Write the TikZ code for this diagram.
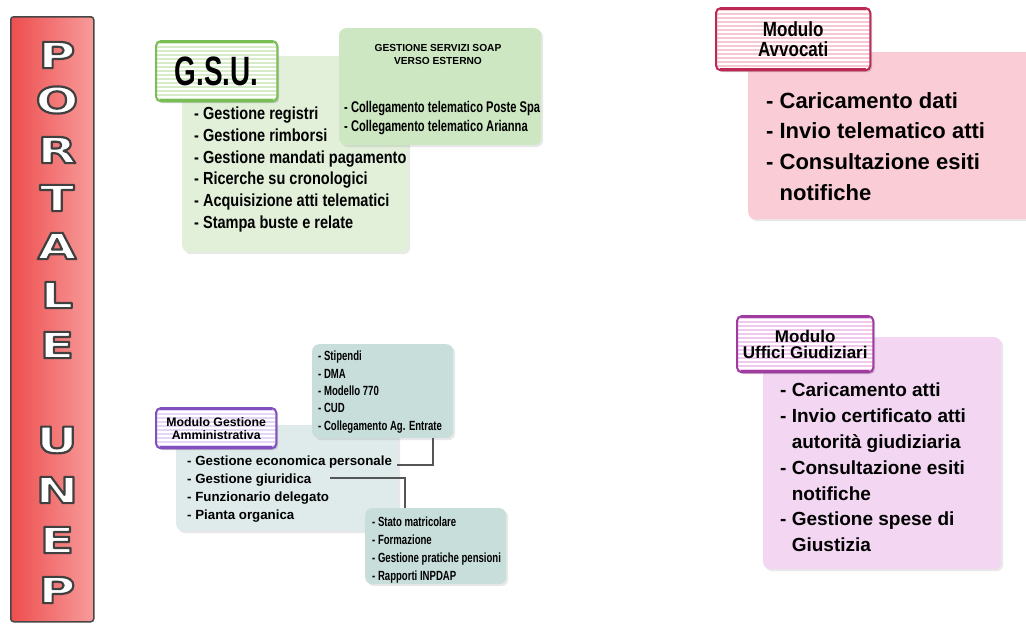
\documentclass[tikz,border=0pt]{standalone}
\usepackage{fontspec}
\setmainfont{Liberation Sans}
\newfontfamily\cA[FakeStretch=0.83]{Liberation Sans}
\newfontfamily\cB[FakeStretch=0.72]{Liberation Sans}
\newfontfamily\cC[FakeStretch=0.68]{Liberation Sans}
\newfontfamily\cL[FakeStretch=1.4]{DejaVu Sans}
\usetikzlibrary{shadows,calc}
\definecolor{barL}{RGB}{238,78,78}
\definecolor{barM}{RGB}{242,92,92}
\definecolor{barR}{RGB}{247,155,155}
\definecolor{edge}{RGB}{70,70,70}
\definecolor{gsuB}{RGB}{226,240,218}
\definecolor{soapB}{RGB}{204,231,194}
\definecolor{gsuE}{RGB}{120,190,85}
\definecolor{gsuS}{RGB}{214,236,200}
\definecolor{avvB}{RGB}{249,204,214}
\definecolor{avvE}{RGB}{190,40,85}
\definecolor{avvS}{RGB}{246,200,212}
\definecolor{uffB}{RGB}{242,214,242}
\definecolor{uffE}{RGB}{160,60,160}
\definecolor{uffS}{RGB}{240,200,236}
\definecolor{ammB}{RGB}{222,235,234}
\definecolor{subB}{RGB}{200,222,219}
\definecolor{ammE}{RGB}{130,80,190}
\definecolor{ammS}{RGB}{228,214,244}
\definecolor{conn}{RGB}{85,85,85}
\tikzset{
  boxbase/.style={rounded corners=7pt, inner sep=0pt, anchor=north west,
    drop shadow={opacity=0.18, shadow xshift=2pt, shadow yshift=-2pt}},
  tabbase/.style={rounded corners=5pt, inner sep=0pt, anchor=north west, fill=white,
    drop shadow={opacity=0.35, shadow xshift=2pt, shadow yshift=-2pt}},
  list/.style={anchor=north west, inner sep=0pt, align=left, text=black},
  letter/.style={inner sep=0pt, font=\cL\bfseries\fontsize{36}{36}\selectfont},
  connector/.style={draw=conn, line width=2.2pt},
}
\newcommand\olt[1]{{\color{white}\special{pdf:literal direct 2 Tr 2.2 w 0.25 G 1 j}#1\special{pdf:literal direct 0 Tr}}}
% name, x, y, w, h, edge color, stripe color
\newcommand\mktab[7]{%
  \node[tabbase, minimum width=#4pt, minimum height=#5pt] (#1) at (#2,#3) {};
  \begin{scope}
    \clip[rounded corners=5pt] (#1.north west) rectangle (#1.south east);
    \foreach \k in {0,...,20} {\fill[#7] ($(#1.north west)+(0,\k*4+1)$) rectangle ++(#4,2);}
  \end{scope}
  \draw[#6, line width=2pt, rounded corners=5pt] (#1.north west) rectangle (#1.south east);
  \draw[#6, line width=2.5pt] ($(#1.south west)+(4,-1.5)$) -- ($(#1.south east)+(-4,-1.5)$);
  \draw[#6, line width=1.5pt] ($(#1.north west)+(4,1.5)$) -- ($(#1.north east)+(-4,1.5)$);
}
\begin{document}
\begin{tikzpicture}[x=1pt,y=-1pt]
\useasboundingbox[fill=white] (0,0) rectangle (1026,624);

% ---- left bar ----
\node[draw=edge, line width=1.5pt, rounded corners=3pt, inner sep=0pt, anchor=north west,
  left color=barL, middle color=barM, right color=barR,
  minimum width=83pt, minimum height=605pt] (bar) at (10,16) {};
\foreach \c/\yy [count=\i] in {P/55,O/100,R/150,T/198,A/246,L/295,E/345,U/440,N/490,E/540,P/590}
  {\node[letter] (L\i) at (57,\yy) {\olt{\c}};}

% ---- GSU ----
\node[boxbase, fill=gsuB, minimum width=226pt, minimum height=196pt] (gsubody) at (182,56) {};
\node[boxbase, fill=soapB, minimum width=202pt, minimum height=117pt] (soap) at (339,28) {};
\mktab{gsutab}{156}{41}{121}{60}{gsuE}{gsuS}
\node[inner sep=0pt, font=\cC\bfseries\fontsize{41}{41}\selectfont] (gsulbl) at (gsutab.center) {G.S.U.};
\node[list, font=\cA\bfseries\fontsize{17.5}{21.7}\selectfont] (gsulist) at (194,107) {%
- Gestione registri\\
- Gestione rimborsi\\
- Gestione mandati pagamento\\
- Ricerche su cronologici\\
- Acquisizione atti telematici\\
- Stampa buste e relate};
\node[inner sep=0pt, align=center, font=\bfseries\fontsize{10.2}{13}\selectfont] (soaptitle) at (438,54) {GESTIONE SERVIZI SOAP\\VERSO ESTERNO};
\node[list, font=\cB\bfseries\fontsize{15.5}{19.5}\selectfont] (soaplist) at (344,101) {%
- Collegamento telematico Poste Spa\\
- Collegamento telematico Arianna};

% ---- Avvocati ----
\node[boxbase, fill=avvB, minimum width=290pt, minimum height=167pt] (avvbody) at (748,52) {};
\mktab{avvtab}{716}{8}{154}{62}{avvE}{avvS}
\node[inner sep=0pt, align=center, font=\cA\bfseries\fontsize{20.5}{19.5}\selectfont] (avvlbl) at (avvtab.center) {Modulo\\Avvocati};
\node[list, font=\bfseries\fontsize{22}{30.7}\selectfont] (avvlist) at (766,92) {%
- Caricamento dati\\
- Invio telematico atti\\
- Consultazione esiti\\
\phantom{- }notifiche};

% ---- Uffici Giudiziari ----
\node[boxbase, fill=uffB, minimum width=238pt, minimum height=232pt] (uffbody) at (763,337) {};
\mktab{ufftab}{737}{316}{136}{56}{uffE}{uffS}
\node[inner sep=0pt, align=center, font=\bfseries\fontsize{17}{16.5}\selectfont] (ufflbl) at (ufftab.center) {Modulo\\Uffici Giudiziari};
\node[list, font=\bfseries\fontsize{19}{25.8}\selectfont] (ufflist) at (780,383) {%
- Caricamento atti\\
- Invio certificato atti\\
\phantom{- }autorità giudiziaria\\
- Consultazione esiti\\
\phantom{- }notifiche\\
- Gestione spese di\\
\phantom{- }Giustizia};

% ---- Gestione Amministrativa ----
\node[boxbase, fill=ammB, minimum width=222pt, minimum height=106pt] (ammbody) at (176,425) {};
\node[boxbase, fill=subB, minimum width=141pt, minimum height=94pt] (stip) at (312,344) {};
\node[boxbase, fill=subB, minimum width=141pt, minimum height=76pt] (stato) at (365,508) {};
\mktab{ammtab}{156}{408}{120}{40}{ammE}{ammS}
\node[inner sep=0pt, align=center, font=\bfseries\fontsize{12.3}{12.8}\selectfont] (ammlbl) at (ammtab.center) {Modulo Gestione\\Amministrativa};
\node[list, font=\bfseries\fontsize{13.3}{18}\selectfont] (ammlist) at (187,456) {%
- Gestione economica personale\\
- Gestione giuridica\\
- Funzionario delegato\\
- Pianta organica};
\node[list, font=\cB\bfseries\fontsize{13.3}{17.3}\selectfont] (stiplist) at (318,351) {%
- Stipendi\\
- DMA\\
- Modello 770\\
- CUD\\
- Collegamento Ag. Entrate};
\node[list, font=\cB\bfseries\fontsize{13.3}{18}\selectfont] (statolist) at (372,517) {%
- Stato matricolare\\
- Formazione\\
- Gestione pratiche pensioni\\
- Rapporti INPDAP};

% ---- connectors ----
\coordinate (e1) at (397,465);
\coordinate (e2) at (330,478);
\draw[connector] (e1) -| ([xshift=121pt]stip.south west);
\draw[connector] (e2) -| ([xshift=40pt]stato.north west);
\end{tikzpicture}
\end{document}
